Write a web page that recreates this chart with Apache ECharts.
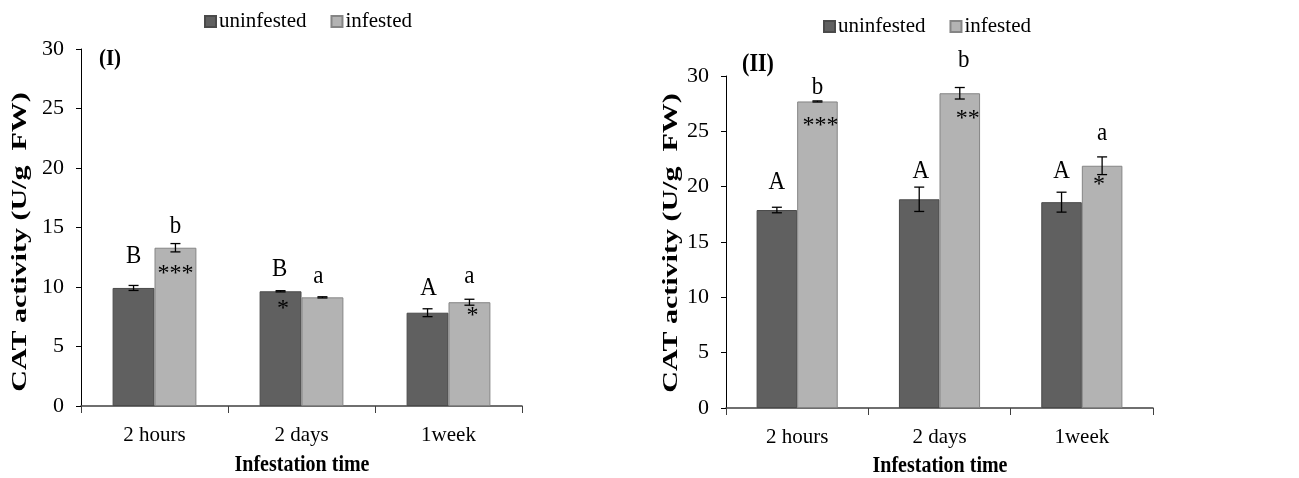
<!DOCTYPE html>
<html>
<head>
<meta charset="utf-8">
<title>CAT activity</title>
<script src="https://cdn.jsdelivr.net/npm/echarts@6/dist/echarts.min.js"></script>
<style>
  html, body { margin: 0; padding: 0; background: #ffffff; }
  #chart { width: 1299px; height: 478px; }
</style>
</head>
<body>
<div id="chart"></div>
<script>
// ---- data ----
const categories = ['2 hours', '2 days', '1week'];
const seriesNames = ['uninfested', 'infested'];
const yMin = 0, yMax = 30, yStep = 5;

// Panel (I)
const uninfestedI = [9.92, 9.64, 7.84];
const uninfestedErrI = [0.21, 0.05, 0.33];
const infestedI = [13.30, 9.13, 8.72];
const infestedErrI = [0.35, 0.05, 0.25];
const uninfestedLettersI = ['B', 'B', 'A'];
const infestedLettersI = ['b', 'a', 'a'];
const uninfestedStarsI = ['', '*', ''];
const infestedStarsI = ['***', '', '*'];

// Panel (II)
const uninfestedII = [17.89, 18.86, 18.60];
const uninfestedErrII = [0.25, 1.10, 0.90];
const infestedII = [27.70, 28.44, 21.89];
const infestedErrII = [0.05, 0.52, 0.80];
const uninfestedLettersII = ['A', 'A', 'A'];
const infestedLettersII = ['b', 'b', 'a'];
const uninfestedStarsII = ['', '', ''];
const infestedStarsII = ['***', '**', '*'];

// ---- styling / layout ----
const FONT = '"Liberation Serif", "Times New Roman", serif';
const DARK = '#606060', DARK_EDGE = '#4a4a4a';
const LIGHT = '#b3b3b3', LIGHT_EDGE = '#858585';
const CAT_GAP = 0.43;

// pixel nudges for the annotation texts (letter above the error bar, stars inside the bar)
const noteLayout = {
  uI:  { letterDy: [-29, -21, -20], letterDx: [0, -1, 1], starDy: [0, 17, 0], starDx: [0, 2.5, 0] },
  iI:  { letterDy: [-17, -20.5, -22.5], letterDx: [0, -4, 0], starDy: [26, 0, 13], starDx: [0, 0, 3] },
  uII: { letterDy: [-25, -16, -21], letterDx: [0, 1.5, 0], starDy: [0, 0, 0], starDx: [0, 0, 0] },
  iII: { letterDy: [-13.5, -27, -23.5], letterDx: [0, 4, 0], starDy: [24, 25, 19], starDx: [3, 8, -3] }
};

function barSeries(name, values, axisIndex, color, edge) {
  return {
    type: 'bar', name: name, data: values,
    xAxisIndex: axisIndex, yAxisIndex: axisIndex,
    barGap: '0%', barCategoryGap: (CAT_GAP * 100) + '%',
    itemStyle: { color: color, borderColor: edge, borderWidth: 1 },
    emphasis: { disabled: true }, silent: true
  };
}

// error bars plus the significance annotations, placed from the bar values
function noteSeries(values, errs, letters, stars, layout, side, axisIndex) {
  return {
    type: 'custom', xAxisIndex: axisIndex, yAxisIndex: axisIndex, z: 5, silent: true,
    data: values.map((v, i) => [i, v, errs[i]]),
    renderItem: function (params, api) {
      const i = api.value(0), v = api.value(1), e = api.value(2);
      const band = api.size([1, 0])[0];
      const bw = band * (1 - CAT_GAP) / 2;
      const c = api.coord([i, v]);
      const x = c[0] + side * bw / 2;
      const top = api.coord([i, v + e])[1];
      const bot = api.coord([i, v - e])[1];
      const cap = 5;
      const ls = { stroke: '#000', lineWidth: 1.3 };
      const kids = [
        { type: 'line', shape: { x1: x, y1: top, x2: x, y2: bot }, style: ls },
        { type: 'line', shape: { x1: x - cap, y1: top, x2: x + cap, y2: top }, style: ls },
        { type: 'line', shape: { x1: x - cap, y1: bot, x2: x + cap, y2: bot }, style: ls }
      ];
      if (letters[i]) {
        kids.push({ type: 'text', x: x + layout.letterDx[i], y: top + layout.letterDy[i], scaleY: 1.08,
          style: { text: letters[i], font: '23px ' + FONT, fill: '#000', align: 'center', verticalAlign: 'middle' } });
      }
      if (stars[i]) {
        kids.push({ type: 'text', x: x + layout.starDx[i], y: c[1] + layout.starDy[i],
          style: { text: stars[i], font: '24px ' + FONT, fill: '#000', align: 'center', verticalAlign: 'middle' } });
      }
      return { type: 'group', children: kids };
    }
  };
}

function xAxisDef(gridIndex) {
  return {
    type: 'category', gridIndex: gridIndex, data: categories, boundaryGap: true,
    axisLine: { show: true, lineStyle: { color: '#404040', width: 1.5 } },
    axisTick: { show: true, alignWithLabel: false, length: 7, lineStyle: { color: '#404040', width: 1 } },
    axisLabel: { fontFamily: FONT, fontSize: 21, color: '#000', margin: 19 },
    splitLine: { show: false }
  };
}

function yAxisDef(gridIndex) {
  return {
    type: 'value', gridIndex: gridIndex, min: yMin, max: yMax, interval: yStep,
    axisLine: { show: true, lineStyle: { color: '#000', width: 1 } },
    axisTick: { show: true, length: 5, lineStyle: { color: '#000', width: 1 } },
    axisLabel: { fontFamily: FONT, fontSize: 22, color: '#000', margin: 17 },
    splitLine: { show: false }
  };
}

function textEl(text, x, y, size, extra) {
  return Object.assign({
    type: 'text', x: x, y: y, silent: true,
    style: { text: text, font: 'bold ' + size + 'px ' + FONT, fill: '#000', align: 'center', verticalAlign: 'middle' }
  }, extra || {});
}

const legendStyle = {
  orient: 'horizontal', icon: 'rect', itemWidth: 11, itemHeight: 11, itemGap: 24, padding: 0,
  textStyle: { fontFamily: FONT, fontSize: 21, color: '#000', padding: [0, 0, 0, -2] },
  data: seriesNames, selectedMode: false
};

const chart = echarts.init(document.getElementById('chart'), null, { renderer: 'canvas' });
chart.setOption({
  animation: false,
  backgroundColor: '#ffffff',
  legend: [
    Object.assign({ left: 204, top: 11 }, legendStyle),
    Object.assign({ left: 823, top: 16 }, legendStyle)
  ],
  grid: [
    { left: 81, top: 49, width: 441, height: 357 },
    { left: 726, top: 76, width: 427, height: 332 }
  ],
  xAxis: [xAxisDef(0), xAxisDef(1)],
  yAxis: [yAxisDef(0), yAxisDef(1)],
  series: [
    barSeries(seriesNames[0], uninfestedI, 0, DARK, DARK_EDGE),
    barSeries(seriesNames[1], infestedI, 0, LIGHT, LIGHT_EDGE),
    barSeries(seriesNames[0], uninfestedII, 1, DARK, DARK_EDGE),
    barSeries(seriesNames[1], infestedII, 1, LIGHT, LIGHT_EDGE),
    noteSeries(uninfestedI, uninfestedErrI, uninfestedLettersI, uninfestedStarsI, noteLayout.uI, -1, 0),
    noteSeries(infestedI, infestedErrI, infestedLettersI, infestedStarsI, noteLayout.iI, 1, 0),
    noteSeries(uninfestedII, uninfestedErrII, uninfestedLettersII, uninfestedStarsII, noteLayout.uII, -1, 1),
    noteSeries(infestedII, infestedErrII, infestedLettersII, infestedStarsII, noteLayout.iII, 1, 1)
  ],
  graphic: [
    textEl('(I)', 110, 59, 21, { scaleY: 1.1 }),
    textEl('(II)', 758, 65, 22, { scaleY: 1.1 }),
    textEl('CAT activity (U/g  FW)', 21, 242, 20, { rotation: Math.PI / 2, scaleX: 1.5 }),
    textEl('CAT activity (U/g  FW)', 672, 243, 20, { rotation: Math.PI / 2, scaleX: 1.5 }),
    textEl('Infestation time', 302, 465, 20, { scaleY: 1.2 }),
    textEl('Infestation time', 940, 466, 20, { scaleY: 1.2 })
  ]
});
</script>
</body>
</html>
